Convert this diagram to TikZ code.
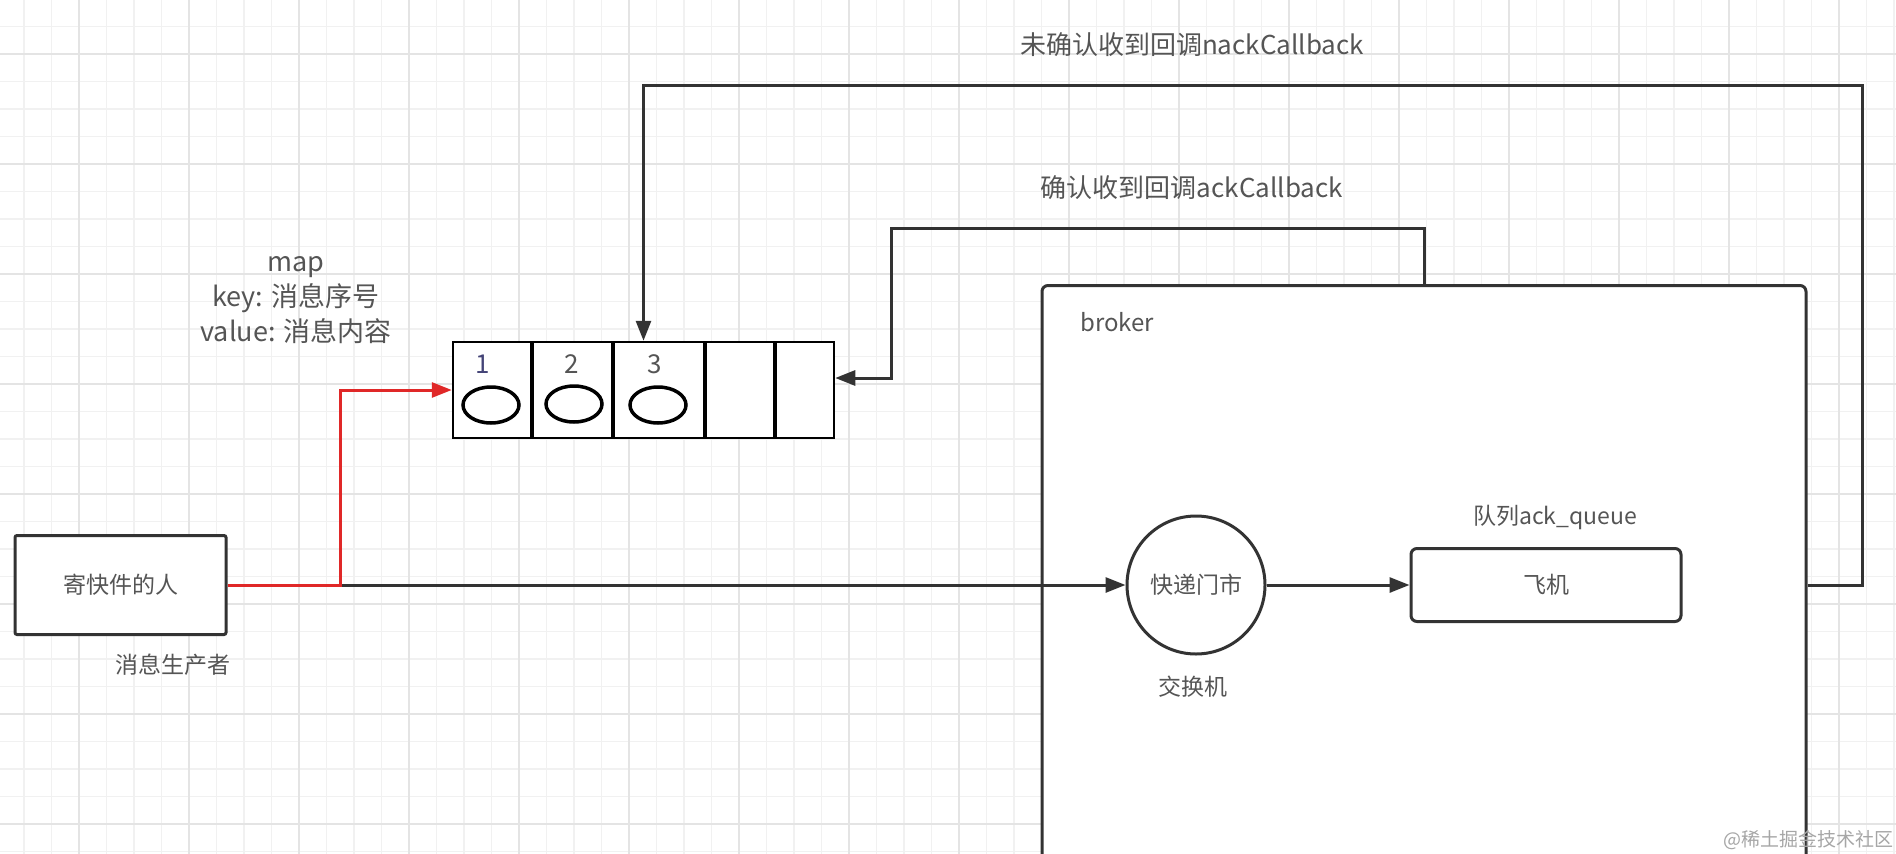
\documentclass[tikz,border=0pt]{standalone}
\usepackage{fontspec}
\setmainfont{Noto Sans CJK SC}
\usetikzlibrary{arrows.meta,calc}
\definecolor{txt}{HTML}{555555}
\definecolor{ln}{HTML}{333333}
\definecolor{redl}{HTML}{E02828}
\definecolor{gminor}{HTML}{F1F1F1}
\definecolor{gmajor}{HTML}{E4E4E4}
\begin{document}
\begin{tikzpicture}[x=1pt,y=-1pt,line join=miter,
  conn/.style={draw=ln, line width=3pt, -{Triangle[length=20pt,width=15pt]}},
  lbl/.style={text=txt, font=\fontsize{23}{28}\selectfont, inner sep=0pt},
  toplbl/.style={text=txt, font=\fontsize{26}{30}\selectfont, inner sep=0pt},
  maplbl/.style={text=txt, font=\fontsize{27}{35}\selectfont, inner sep=0pt, align=center},
  numlbl/.style={text=txt, font=\fontsize{26}{30}\selectfont, inner sep=0pt},
  box/.style={draw=ln, line width=3pt, fill=white, inner sep=0pt, text=txt, font=\fontsize{23}{28}\selectfont},
  minorgrid/.style={draw=gminor, line width=1.2pt},
  majorgrid/.style={draw=gmajor, line width=1.6pt}]
\useasboundingbox (0,0) rectangle (1896,854);
\fill[white] (0,0) rectangle (1896,854);
% grid
\foreach \i in {0,...,68} \draw[minorgrid] ({24+27.5*\i},0) -- ++(0,854);
\foreach \i in {0,...,30} \draw[minorgrid] (0,{26.5+27.5*\i}) -- ++(1896,0);
\foreach \i in {0,...,16} \draw[majorgrid] ({79+110*\i},0) -- ++(0,854);
\foreach \i in {0,...,7} \draw[majorgrid] (0,{54+110*\i}) -- ++(1896,0);

% broker container
\node[box, rounded corners=6pt, minimum width=764pt, minimum height=620pt, anchor=north] (broker) at (1424,284) {};
\node[lbl, anchor=west, font=\fontsize{24}{28}\selectfont] (bl) at (1080,322) {broker};

% sender
\node[box, rounded corners=2pt, minimum width=211pt, minimum height=99pt] (sender) at (120.5,585) {寄快件的人};
\node[lbl] (prod) at (173,665) {消息生产者};

% queue (map)
\node[draw=black, line width=2.5pt, fill=white, minimum width=381pt, minimum height=96pt, inner sep=0pt] (queue) at (643.5,390) {};
\foreach \x in {532,613,705,775} \draw[black, line width=3.5pt] (\x,342) -- (\x,438);
\draw[black, line width=3.5pt] (491,405) ellipse [x radius=28, y radius=18];
\draw[black, line width=3.5pt] (574,404) ellipse [x radius=28, y radius=18];
\draw[black, line width=3.5pt] (658,405) ellipse [x radius=28, y radius=18];
\node[numlbl, text=txt!80!blue] (n1) at (483,364) {1};
\node[numlbl] (n2) at (572,364) {2};
\node[numlbl] (n3) at (655,364) {3};
\node[maplbl] (mapl) at (296,300) {map\\key: 消息序号\\value: 消息内容};

% exchange and queue
\node[box, circle, minimum size=138pt] (ex) at (1196,585) {快递门市};
\node[lbl] (exl) at (1193,687) {交换机};
\node[box, rounded corners=6pt, minimum width=270pt, minimum height=73pt] (plane) at (1546,585) {飞机};
\node[lbl] (ql) at (1555,517) {队列ack\_queue};

% connectors
\coordinate (j) at (340,585);
\draw[conn] (j) -- (ex.west);
\draw[conn, draw=redl] (sender.east) -- (j) |- (queue.west);
\draw[conn] (ex.east) -- (plane.west);

\coordinate (ackc) at (891,228);
\coordinate (qin) at ([yshift=12pt]queue.east);
\draw[conn] (broker.north) |- (ackc) |- (qin);
\node[toplbl] (ackl) at (1192,188) {确认收到回调ackCallback};

\coordinate (nc) at (1862,85);
\draw[conn] (broker.east |- ex) -| (nc) -| (queue.north);
\node[toplbl] (nackl) at (1192,45) {未确认收到回调nackCallback};

% watermark
\node[inner sep=0pt, text=black!35, font=\fontsize{19}{22}\selectfont] (wm) at (1808,840) {@稀土掘金技术社区};
\end{tikzpicture}
\end{document}
